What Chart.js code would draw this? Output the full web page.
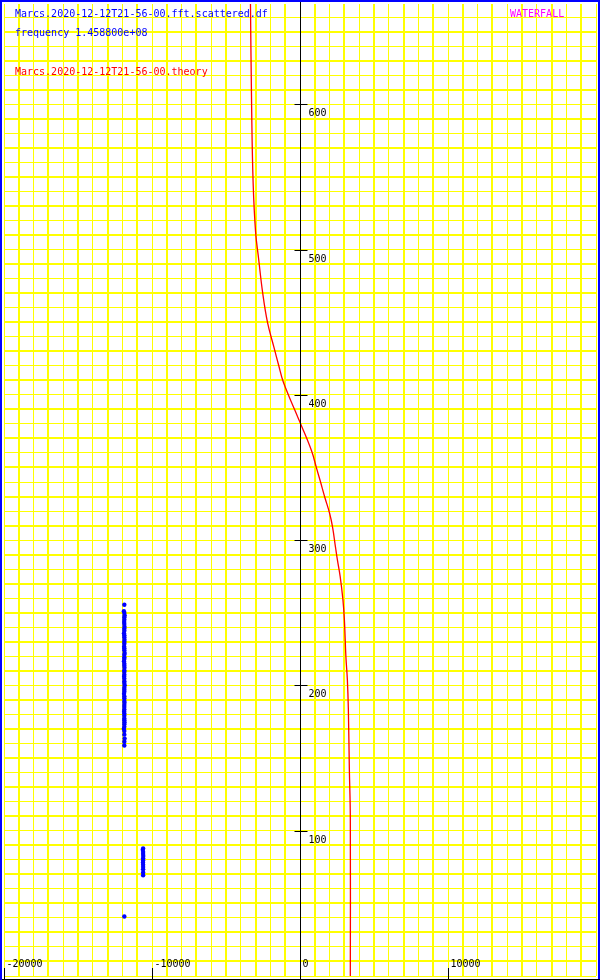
<!DOCTYPE html>
<html>
<head>
<meta charset="utf-8">
<script src="https://cdn.jsdelivr.net/npm/chart.js@4/dist/chart.umd.min.js"></script>
<style>
  html, body { margin: 0; padding: 0; background: #fff; }
  #wrap { width: 600px; height: 980px; }
</style>
</head>
<body>
<div id="wrap"><canvas id="plot" width="600" height="980"></canvas></div>
<script>
// theory curve (x = offset, y = row)
const theoryX = [-3347, -3267, -3167, -3000, -2800, -2533, -2200, -1767, -1433, -1133, -330, 47, 780, 1130, 1360, 1690, 2000, 2200, 2400, 2533, 2713, 2900, 3000, 3100, 3200, 3267, 3333, 3400, 3400];
const theoryY = [669, 597, 546, 512, 494, 471, 450, 433, 420, 409, 389, 380, 361.5, 349, 341, 329, 318.5, 309, 295, 286, 275, 259, 245, 220, 204, 184, 143, 109, 0];

// scattered points
const scatX = [
  -11870, -11900, -11870, -11850, -11870, -11870, -11880, -11870, -11860, -11870,
  -11870, -11890, -11870, -11870, -11860, -11870, -11870, -11880, -11870, -11870,
  -11850, -11870, -11870, -11870, -11890, -11870, -11870, -11860, -11870, -11870,
  -11870, -11880, -11870, -11870, -11870, -11850, -11870, -11870, -11870, -11890,
  -11870, -11870, -11870, -11860, -11870, -11870, -11870, -11880, -11870, -11870,
  -11870, -11870, -11860, -11870, -11870, -11900, -11870, -11870, -11850, -11870,
  -11870,
  -10600, -10620, -10600, -10600, -10590, -10600, -10600, -10610, -10600, -10600,
  -10600, -10600, -10600,
  -11870
];
const scatY = [
  255.5, 251, 249.8, 248.1, 246.9, 245.2, 243.6, 242.3, 240.4, 239.1,
  237.7, 235.9, 234.6, 233.2, 231.4, 230.1, 228.7, 226.8, 225.6, 224.2,
  222.3, 221.1, 219.4, 218.2, 216.7, 214.9, 213.6, 212.1, 210.3, 209.2,
  207.4, 206.1, 204.7, 202.9, 201.6, 200.2, 198.4, 197.1, 195.7, 194.2,
  192.6, 191.2, 189.3, 188.1, 186.6, 185.2, 183.4, 182.1, 180.7, 179.2,
  177.3, 176.1, 174.6, 173.3, 171.5, 170.2, 168.6, 166.1, 163.4, 161.2,
  158.6,
  87.8, 86.9, 85.4, 83.9, 82.6, 81.1, 79.5, 78.2, 76.6, 75.1,
  73.4, 71.2, 69.3,
  41
];

// axis labels
const xLabelVals = [-20000, -10000, 0, 10000];
const yLabelVals = [100, 200, 300, 400, 500, 600];
const xRange = [-20000, 20000];
const yRange = [0, 669];
const xGridStep = 1000;
const yGridStep = 10;

const textLines = [
  { text: 'Marcs.2020-12-12T21-56-00.fft.scattered.df', x: 15, y: 14, color: '#0000ff' },
  { text: 'frequency 1.458800e+08', x: 15, y: 33, color: '#0000ff' },
  { text: 'Marcs.2020-12-12T21-56-00.theory', x: 15, y: 72, color: '#ff0000' },
  { text: 'WATERFALL', x: 510, y: 14, color: '#ff00ff' }
];

const FONT = '10px "DejaVu Sans Mono", "Liberation Mono", monospace';

function gridTicks(min, max, step) {
  const out = [];
  for (let v = Math.ceil(min / step) * step; v <= max; v += step) out.push({ value: v });
  return out;
}

const overlay = {
  id: 'overlay',
  afterDatasetsDraw(chart) {
    const c = chart.ctx;
    const xs = chart.scales.x, ys = chart.scales.y;
    const x0 = Math.round(xs.getPixelForValue(0)) + 0.5;
    const yb = chart.height - 0.5;
    c.save();
    c.strokeStyle = '#000';
    c.lineWidth = 1;
    // y axis line at x = 0
    c.beginPath(); c.moveTo(x0, 0); c.lineTo(x0, chart.height); c.stroke();
    // bottom axis line
    c.beginPath(); c.moveTo(0, yb); c.lineTo(chart.width, yb); c.stroke();
    c.font = FONT;
    c.fillStyle = '#000';
    c.textBaseline = 'middle';
    // y ticks
    yLabelVals.forEach(v => {
      const py = Math.round(ys.getPixelForValue(v)) + 0.5;
      c.beginPath(); c.moveTo(x0 - 6, py); c.lineTo(x0 + 7, py); c.stroke();
      c.fillText(String(v), x0 + 8, py + 9);
    });
    // x ticks
    xLabelVals.forEach(v => {
      const px = Math.round(xs.getPixelForValue(v)) + 0.5;
      c.beginPath(); c.moveTo(px, chart.height - 12); c.lineTo(px, chart.height); c.stroke();
      c.fillText(String(v), px + 2, chart.height - 16);
    });
    // frame (blue on left, top, right)
    c.strokeStyle = '#0000ff';
    c.lineWidth = 2;
    c.beginPath();
    c.moveTo(1, chart.height); c.lineTo(1, 1); c.lineTo(chart.width - 1, 1); c.lineTo(chart.width - 1, chart.height - 1);
    c.stroke();
    // text
    textLines.forEach(t => {
      c.fillStyle = t.color;
      c.fillText(t.text, t.x, t.y);
    });
    c.restore();
  }
};

// alternate 1px / 2px yellow rules, like the original raster
const gridWidth = ctx => (ctx.index % 2 ? 2 : 1);

new Chart(document.getElementById('plot'), {
  type: 'scatter',
  data: {
    datasets: [
      {
        label: 'theory',
        data: theoryX.map((x, i) => ({ x, y: theoryY[i] })),
        showLine: true,
        borderColor: '#ff0000',
        borderWidth: 1.3,
        pointRadius: 0,
        tension: 0.4,
        fill: false
      },
      {
        label: 'scattered',
        data: scatX.map((x, i) => ({ x, y: scatY[i] })),
        showLine: false,
        pointRadius: 2.2,
        pointBackgroundColor: '#0000ff',
        pointBorderWidth: 0
      }
    ]
  },
  options: {
    responsive: false,
    animation: false,
    layout: { padding: 0 },
    plugins: { legend: { display: false }, tooltip: { enabled: false } },
    scales: {
      x: {
        type: 'linear', min: xRange[0], max: xRange[1],
        afterBuildTicks: s => { s.ticks = gridTicks(xRange[0], xRange[1], xGridStep); },
        grid: { color: '#ffff00', lineWidth: gridWidth, drawTicks: false },
        border: { display: false },
        ticks: { display: false }
      },
      y: {
        type: 'linear', min: yRange[0], max: yRange[1],
        afterBuildTicks: s => { s.ticks = gridTicks(yRange[0], yRange[1], yGridStep); },
        grid: { color: '#ffff00', lineWidth: gridWidth, drawTicks: false },
        border: { display: false },
        ticks: { display: false }
      }
    }
  },
  plugins: [overlay]
});
</script>
</body>
</html>
